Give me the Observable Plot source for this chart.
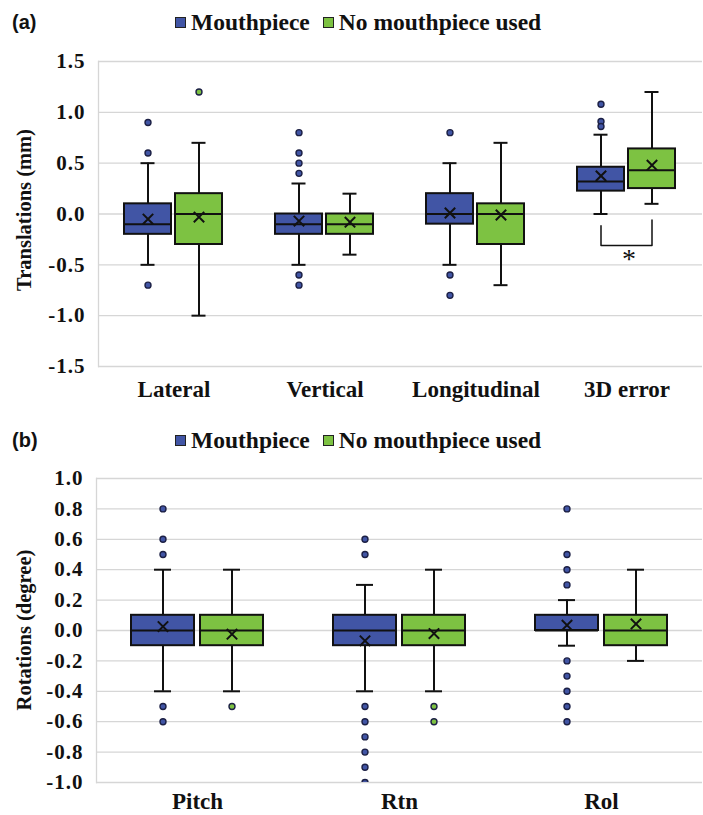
<!DOCTYPE html>
<html>
<head>
<meta charset="utf-8">
<script src="https://cdn.jsdelivr.net/npm/d3@7"></script>
<script src="https://cdn.jsdelivr.net/npm/@observablehq/plot@0.6"></script>
<style>
  html, body { margin: 0; padding: 0; background: #fff; }
  #root { position: relative; width: 703px; height: 815px; overflow: hidden; font-family: "Liberation Serif", "Times New Roman", serif; font-weight: bold; color: #111; }
  .panel-tag { position: absolute; left: 12px; font-family: "Liberation Sans", Arial, sans-serif; font-weight: bold; font-size: 20px; line-height: 20px; }
  .legend { position: absolute; left: 175px; display: flex; align-items: center; font-size: 23.5px; line-height: 24px; white-space: nowrap; }
  .legend .sw { display: inline-block; width: 9px; height: 9px; border: 1.5px solid #222; margin-right: 5px; }
  .legend .item { display: flex; align-items: center; margin-right: 13px; }
  .ytitle { position: absolute; font-size: 20.5px; line-height: 20px; white-space: nowrap; transform: translate(-50%, -50%) rotate(-90deg); }
  .plot { position: absolute; left: 0; }
  .plot g[aria-label="y-axis tick label"] text { letter-spacing: 1px; }
</style>
</head>
<body>
<div id="root"></div>
<script>
// ---------- data ----------
const seriesNames = ["Mouthpiece", "No mouthpiece used"];
const seriesColors = ["#4155a5", "#7dc242"];

// Panel (a): translations (mm); each pair is [Mouthpiece, No mouthpiece used]
const transCats = ["Lateral", "Vertical", "Longitudinal", "3D error"];
const transLo   = [[-0.5, -1.0], [-0.5, -0.4], [-0.5, -0.7], [0.0, 0.1]];
const transQ1   = [[-0.2, -0.3], [-0.2, -0.2], [-0.1, -0.3], [0.225, 0.25]];
const transMed  = [[-0.1, 0.0], [-0.1, -0.1], [0.0, 0.0], [0.32, 0.43]];
const transQ3   = [[0.1, 0.2], [0.0, 0.0], [0.2, 0.1], [0.46, 0.64]];
const transHi   = [[0.5, 0.7], [0.3, 0.2], [0.5, 0.7], [0.78, 1.2]];
const transMean = [[-0.05, -0.03], [-0.07, -0.08], [0.01, -0.01], [0.375, 0.48]];
const transOut  = [
  [[0.9, 0.6, -0.7], [1.2]],
  [[0.8, 0.6, 0.5, 0.4, -0.6, -0.7], []],
  [[0.8, -0.6, -0.8], []],
  [[1.08, 0.91, 0.86], []]
];
const transTicks = [-1.5, -1.0, -0.5, 0.0, 0.5, 1.0, 1.5];
// significance bracket on "3D error": [series index, y]
const bracketPts = [[0, -0.115], [0, -0.31], [1, -0.31], [1, -0.06]];
const bracketStarY = -0.41;

// Panel (b): rotations (degree)
const rotCats = ["Pitch", "Rtn", "Rol"];
const rotLo   = [[-0.4, -0.4], [-0.4, -0.4], [-0.1, -0.2]];
const rotQ1   = [[-0.1, -0.1], [-0.1, -0.1], [0.0, -0.1]];
const rotMed  = [[0.0, 0.0], [0.0, 0.0], [0.0, 0.0]];
const rotQ3   = [[0.1, 0.1], [0.1, 0.1], [0.1, 0.1]];
const rotHi   = [[0.4, 0.4], [0.3, 0.4], [0.2, 0.4]];
const rotMean = [[0.026, -0.024], [-0.068, -0.02], [0.035, 0.043]];
const rotOut  = [
  [[0.8, 0.6, 0.5, -0.5, -0.6], [-0.5]],
  [[0.6, 0.5, -0.5, -0.6, -0.7, -0.8, -0.9, -1.0], [-0.5, -0.6]],
  [[0.8, 0.5, 0.4, 0.3, -0.2, -0.3, -0.4, -0.5, -0.6], []]
];
const rotTicks = [-1.0, -0.8, -0.6, -0.4, -0.2, 0.0, 0.2, 0.4, 0.6, 0.8, 1.0];

// ---------- helpers ----------
function boxRows(cats, lo, q1, med, q3, hi, mean) {
  const rows = [];
  cats.forEach((c, i) => seriesNames.forEach((s, j) => rows.push({
    cat: c, series: s, lo: lo[i][j], q1: q1[i][j], med: med[i][j], q3: q3[i][j], hi: hi[i][j], mean: mean[i][j]
  })));
  return rows;
}
function outRows(cats, out) {
  const rows = [];
  cats.forEach((c, i) => seriesNames.forEach((s, j) => out[i][j].forEach(v => rows.push({cat: c, series: s, y: v}))));
  return rows;
}

function panel(cfg) {
  const rows = boxRows(cfg.cats, cfg.lo, cfg.q1, cfg.med, cfg.q3, cfg.hi, cfg.mean);
  const outs = outRows(cfg.cats, cfg.out);
  const marks = [
    Plot.gridY(cfg.ticks, {stroke: "#d6d6d6", strokeOpacity: 1, strokeWidth: 1.3}),
    Plot.frame({anchor: "left", facetAnchor: "left", stroke: "#d6d6d6", strokeWidth: 1.3}),
    Plot.axisY(cfg.ticks, {tickSize: 0, tickPadding: cfg.tickPad, fontSize: 21, tickFormat: d => d.toFixed(1), label: null}),
    Plot.axisFx({anchor: "bottom", tickSize: 0, tickPadding: cfg.fxPad, fontSize: 23, label: null}),
    Plot.ruleX(rows, {fx: "cat", x: "series", y1: "lo", y2: "hi", stroke: "#111", strokeWidth: 2}),
    Plot.tickY(rows, {fx: "cat", x: "series", y: "lo", stroke: "#111", strokeWidth: 2, insetLeft: cfg.capInset, insetRight: cfg.capInset}),
    Plot.tickY(rows, {fx: "cat", x: "series", y: "hi", stroke: "#111", strokeWidth: 2, insetLeft: cfg.capInset, insetRight: cfg.capInset}),
    Plot.barY(rows, {fx: "cat", x: "series", y1: "q1", y2: "q3", fill: "series", stroke: "#111", strokeWidth: 2}),
    Plot.tickY(rows, {fx: "cat", x: "series", y: "med", stroke: "#111", strokeWidth: 2}),
    Plot.dot(rows, {fx: "cat", x: "series", y: "mean", symbol: "times", r: 4.8, stroke: "#111", strokeWidth: 2}),
    Plot.dot(outs, {fx: "cat", x: "series", y: "y", fill: "series", stroke: "#1c2045", strokeWidth: 1.4, r: 3, clip: true})
  ];
  if (cfg.bracket) {
    const b = cfg.bracket.pts.map(([j, y]) => ({cat: cfg.bracket.cat, series: seriesNames[j], y}));
    marks.push(Plot.line(b, {fx: "cat", x: "series", y: "y", stroke: "#111", strokeWidth: 1.5}));
    marks.push(Plot.text([{cat: cfg.bracket.cat, y: cfg.bracket.starY}], {fx: "cat", y: "y", text: () => "*", fontSize: 28, fontWeight: "normal", fill: "#111", lineAnchor: "middle", dy: 3, dx: 2}));
  }
  return Plot.plot({
    width: 703,
    height: cfg.height,
    marginLeft: cfg.marginLeft,
    marginRight: 0,
    marginTop: cfg.marginTop,
    marginBottom: cfg.marginBottom,
    style: {fontFamily: "'Liberation Serif', 'Times New Roman', serif", fontWeight: "bold", color: "#111", background: "transparent", overflow: "visible"},
    fx: {domain: cfg.cats, padding: 0},
    x: {domain: seriesNames, paddingInner: cfg.pIn, paddingOuter: cfg.pOut, axis: null},
    y: {domain: cfg.domain, axis: null},
    color: {domain: seriesNames, range: seriesColors},
    marks
  });
}

// ---------- layout ----------
const root = document.getElementById("root");
function addLegend(top) {
  const lg = document.createElement("div");
  lg.className = "legend";
  lg.style.top = top + "px";
  seriesNames.forEach((s, i) => {
    const it = document.createElement("span");
    it.className = "item";
    const sw = document.createElement("span");
    sw.className = "sw";
    sw.style.background = seriesColors[i];
    it.appendChild(sw);
    it.appendChild(document.createTextNode(s));
    lg.appendChild(it);
  });
  root.appendChild(lg);
}
function addTag(text, top) {
  const t = document.createElement("div");
  t.className = "panel-tag";
  t.style.top = top + "px";
  t.textContent = text;
  root.appendChild(t);
}
function addYTitle(text, x, y) {
  const t = document.createElement("div");
  t.className = "ytitle";
  t.style.left = x + "px";
  t.style.top = y + "px";
  t.textContent = text;
  root.appendChild(t);
}

addTag("(a)", 12);
addLegend(10);
const pa = panel({
  cats: transCats, lo: transLo, q1: transQ1, med: transMed, q3: transQ3, hi: transHi, mean: transMean, out: transOut,
  ticks: transTicks, domain: [-1.5, 1.5], height: 375, marginLeft: 96, marginTop: 21, marginBottom: 49,
  tickPad: 13, fxPad: 14, capInset: 16.5, pIn: 0.077, pOut: 0.5,
  bracket: {cat: "3D error", pts: bracketPts, starY: bracketStarY}
});
pa.classList.add("plot");
pa.style.top = "40px";
root.appendChild(pa);
addYTitle("Translations (mm)", 24, 210);

addTag("(b)", 430);
addLegend(428);
const pb = panel({
  cats: rotCats, lo: rotLo, q1: rotQ1, med: rotMed, q3: rotQ3, hi: rotHi, mean: rotMean, out: rotOut,
  ticks: rotTicks, domain: [-1.0, 1.0], height: 360, marginLeft: 95, marginTop: 23, marginBottom: 33,
  tickPad: 13, fxPad: 10, capInset: 23, pIn: 0.086, pOut: 0.49
});
pb.classList.add("plot");
pb.style.top = "455px";
root.appendChild(pb);
addYTitle("Rotations (degree)", 24, 630);
</script>
</body>
</html>
